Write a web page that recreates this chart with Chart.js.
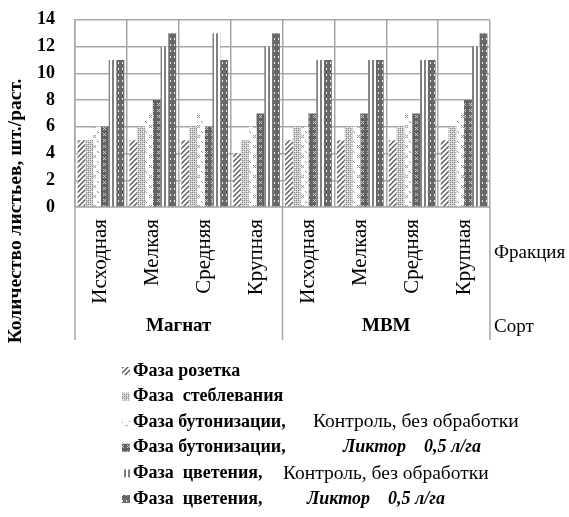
<!DOCTYPE html>
<html>
<head>
<meta charset="utf-8">
<script src="https://cdn.jsdelivr.net/npm/chart.js@4"></script>
<style>
  html, body { margin: 0; padding: 0; background: #fff; }
  #wrap { width: 569px; height: 517px; }
</style>
</head>
<body>
<div id="wrap"><canvas id="chart" width="569" height="517"></canvas></div>
<script>
  const fractions = ['Исходная', 'Мелкая', 'Средняя', 'Крупная', 'Исходная', 'Мелкая', 'Средняя', 'Крупная'];
  const varieties = ['Магнат', 'МВМ'];

  const rosette = [5, 5, 5, 4, 5, 5, 5, 5];
  const stemming = [5, 6, 6, 5, 6, 6, 6, 6];
  const buddingControl = [6, 7, 7, 6, 6, 6, 7, 7];
  const buddingLiktor = [6, 8, 6, 7, 7, 7, 7, 8];
  const floweringControl = [11, 12, 13, 12, 11, 11, 11, 12];
  const floweringLiktor = [11, 13, 11, 13, 11, 11, 11, 13];

  const yTicks = [0, 2, 4, 6, 8, 10, 12, 14];

  // legend text: bold part, second part, its font style, x where second part starts
  const legendParts = [
    ['Фаза розетка', '', '', 0],
    ['Фаза  стеблевания', '', '', 0],
    ['Фаза бутонизации,', 'Контроль, без обработки', 'normal', 313],
    ['Фаза бутонизации,', 'Ликтор    0,5 л/га', 'italic bold', 343],
    ['Фаза  цветения,', 'Контроль, без обработки', 'normal', 283],
    ['Фаза  цветения,', 'Ликтор    0,5 л/га', 'italic bold', 307]
  ];

  const SERIF = '"Liberation Serif", "Times New Roman", serif';

  function makePattern(w, h, draw) {
    const c = document.createElement('canvas');
    c.width = w; c.height = h;
    const g = c.getContext('2d');
    draw(g);
    return document.getElementById('chart').getContext('2d').createPattern(c, 'repeat');
  }

  const patHatch = makePattern(5, 5, g => {
    g.fillStyle = '#fff'; g.fillRect(0, 0, 5, 5);
    g.strokeStyle = '#5e5e5e'; g.lineWidth = 1.5;
    g.beginPath();
    g.moveTo(-1, 6); g.lineTo(6, -1);
    g.moveTo(-1, 1); g.lineTo(1, -1);
    g.moveTo(4, 6); g.lineTo(6, 4);
    g.stroke();
  });
  const patDots = makePattern(4, 4, g => {
    g.fillStyle = '#cfcfcf'; g.fillRect(0, 0, 4, 4);
    g.fillStyle = '#858585';
    g.fillRect(0, 0, 1, 1); g.fillRect(2, 2, 1, 1); g.fillRect(2, 0, 1, 1); g.fillRect(0, 2, 1, 1);
    g.fillStyle = '#fff';
    g.fillRect(1, 1, 1, 1); g.fillRect(3, 3, 1, 1);
  });
  const patConfetti = makePattern(8, 10, g => {
    g.fillStyle = '#fff'; g.fillRect(0, 0, 8, 10);
    g.fillStyle = '#8f8f8f';
    g.fillRect(1, 1, 1, 1); g.fillRect(2, 2, 1, 1);
    g.fillRect(5, 5, 1, 1); g.fillRect(7, 5, 1, 1); g.fillRect(6, 6, 1, 1); g.fillRect(5, 7, 1, 1); g.fillRect(7, 7, 1, 1);
  });
  const patDarkCheck = makePattern(6, 6, g => {
    g.fillStyle = '#626262'; g.fillRect(0, 0, 6, 6);
    g.fillStyle = '#d0d0d0';
    g.fillRect(1, 1, 1, 1); g.fillRect(3, 1, 1, 1); g.fillRect(2, 2, 1, 1); g.fillRect(1, 3, 1, 1); g.fillRect(3, 3, 1, 1);
  });
  const patVLines = makePattern(4, 4, g => {
    g.fillStyle = '#fff'; g.fillRect(0, 0, 4, 4);
    g.fillStyle = '#808080'; g.fillRect(0, 0, 2, 4);
  });
  const patDarkDots = makePattern(4, 6, g => {
    g.fillStyle = '#686868'; g.fillRect(0, 0, 4, 6);
    g.fillStyle = '#eeeeee'; g.fillRect(2, 2, 1, 2);
  });

  const patterns = [patHatch, patDots, patConfetti, patDarkCheck, patVLines, patDarkDots];
  const series = [rosette, stemming, buddingControl, buddingLiktor, floweringControl, floweringLiktor];

  const extras = {
    id: 'extras',
    afterDraw(chart) {
      const ctx = chart.ctx;
      const area = chart.chartArea;
      const x = chart.scales.x;
      ctx.save();

      // separators under the axis
      ctx.strokeStyle = '#a6a6a6';
      ctx.lineWidth = 1.5;
      const sepBottom = 340;
      const mid = (x.getPixelForValue(3) + x.getPixelForValue(4)) / 2;
      [area.left, mid, area.right].forEach(px => {
        ctx.beginPath();
        ctx.moveTo(px, area.bottom);
        ctx.lineTo(px, sepBottom);
        ctx.stroke();
      });

      // variety labels
      ctx.fillStyle = '#000';
      ctx.textAlign = 'center';
      ctx.textBaseline = 'middle';
      ctx.font = 'bold 19px ' + SERIF;
      ctx.fillText(varieties[0], (area.left + mid) / 2, 326);
      ctx.fillText(varieties[1], (mid + area.right) / 2, 326);

      // right side captions
      ctx.textAlign = 'left';
      ctx.font = '19px ' + SERIF;
      ctx.fillText('Фракция', area.right + 4, 253);
      ctx.fillText('Сорт', area.right + 4, 327);

      // y title
      ctx.save();
      ctx.translate(16, 211);
      ctx.rotate(-Math.PI / 2);
      ctx.textAlign = 'center';
      ctx.font = 'bold 19.5px ' + SERIF;
      ctx.fillText('Количество листьев, шт./раст.', 0, 0);
      ctx.restore();

      // legend
      const startY = 371;
      const rowH = 25.6;
      chart.data.datasets.forEach((ds, i) => {
        const cy = startY + i * rowH;
        ctx.fillStyle = ds.backgroundColor;
        ctx.fillRect(122, cy - 4, 8, 8);
        ctx.fillStyle = '#000';
        ctx.textAlign = 'left';
        ctx.textBaseline = 'middle';
        const parts = legendParts[i];
        ctx.font = 'bold 18px ' + SERIF;
        ctx.fillText(parts[0], 133, cy);
        if (parts[1]) {
          ctx.font = parts[2] + (parts[2] === 'normal' ? ' 19.5px ' : ' 18px ') + SERIF;
          ctx.fillText(parts[1], parts[3], cy);
        }
      });
      ctx.restore();
    }
  };

  const ctx = document.getElementById('chart').getContext('2d');
  new Chart(ctx, {
    type: 'bar',
    data: {
      labels: fractions,
      datasets: series.map((data, i) => ({
        label: legendParts[i][0] + ' ' + legendParts[i][1],
        data: data,
        backgroundColor: patterns[i],
        borderWidth: 0,
        categoryPercentage: 0.9,
        barPercentage: 1.0
      }))
    },
    options: {
      responsive: false,
      animation: false,
      layout: { padding: { top: 0, right: 79, left: 0, bottom: 0 } },
      plugins: {
        legend: { display: false },
        tooltip: { enabled: false }
      },
      scales: {
        x: {
          grid: { color: '#a6a6a6', lineWidth: 1.5, offset: true, drawTicks: false },
          border: { color: '#a6a6a6', width: 1.5 },
          ticks: {
            color: '#000',
            font: { family: SERIF, size: 21 },
            maxRotation: 90,
            minRotation: 90,
            padding: 12
          },
          afterFit(scale) { scale.height = 310; }
        },
        y: {
          min: 0,
          max: 14,
          afterBuildTicks(scale) { scale.ticks = yTicks.map(v => ({ value: v })); },
          grid: { color: '#a6a6a6', lineWidth: 1.5, drawTicks: true, tickLength: 11, tickColor: 'rgba(0,0,0,0)' },
          border: { color: '#a6a6a6', width: 1.5 },
          ticks: {
            color: '#000',
            font: { family: SERIF, size: 18, weight: 'bold' },
            padding: 9
          },
          afterFit(scale) { scale.width = 75; }
        }
      }
    },
    plugins: [extras]
  });
</script>
</body>
</html>
